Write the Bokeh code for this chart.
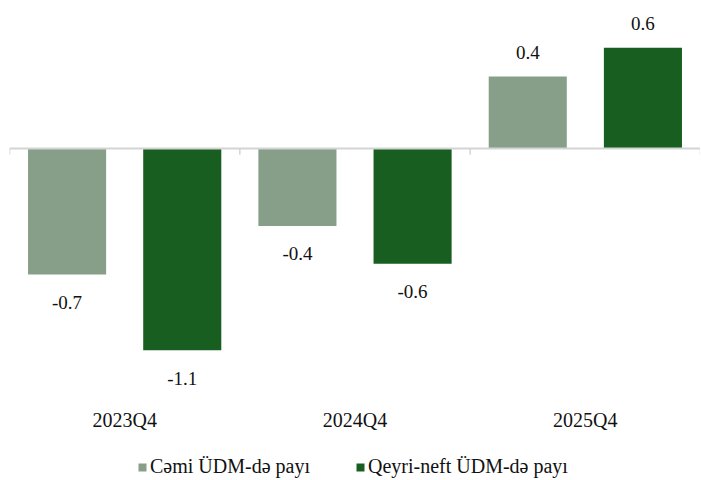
from bokeh.plotting import figure
from bokeh.models import ColumnDataSource, FactorRange, Range1d, Span, Legend, LegendItem
from bokeh.transform import dodge
from bokeh.core.properties import value
from bokeh.embed import file_html
from bokeh.resources import INLINE

categories = ["2023Q4", "2024Q4", "2025Q4"]
total_share = [-0.70, -0.43, 0.40]
nonoil_share = [-1.12, -0.64, 0.56]
series_names = ["Cəmi ÜDM-də payı", "Qeyri-neft ÜDM-də payı"]
colors = ["#879f88", "#185e20"]

FONT = "Liberation Serif"
CAT_LABEL_Y = -1.51

p = figure(width=700, height=478, x_range=FactorRange(*categories, range_padding=0),
           y_range=Range1d(-1.833, 0.822), output_backend="svg", toolbar_location=None,
           min_border_left=9, min_border_right=0,
           min_border_top=0, min_border_bottom=0)
p.xaxis.visible = False
p.yaxis.visible = False
p.outline_line_color = None
p.xgrid.visible = False
p.ygrid.visible = False
p.background_fill_color = "white"
p.border_fill_color = "white"

def src(vals):
    labels = [f"{v:.1f}" for v in vals]
    offs = [-24 if v >= 0 else 28 for v in vals]
    return ColumnDataSource(dict(cat=categories, val=vals, lab=labels, off=offs))

s1 = src(total_share)
s2 = src(nonoil_share)

r1 = p.vbar(x=dodge("cat", -0.25, range=p.x_range), top="val", bottom=0, width=0.339,
            source=s1, fill_color=colors[0], line_color=None)
r2 = p.vbar(x=dodge("cat", 0.25, range=p.x_range), top="val", bottom=0, width=0.339,
            source=s2, fill_color=colors[1], line_color=None)

for s, d in ((s1, -0.25), (s2, 0.25)):
    p.text(x=dodge("cat", d, range=p.x_range), y="val", text="lab", source=s,
           y_offset="off", text_align="center", text_baseline="middle",
           text_font=value(FONT), text_font_size="19px", text_color="#111111")

# zero line and boundary ticks
p.add_layout(Span(location=0, dimension="width", line_color="#d4d4d4", line_width=2))
bsrc = ColumnDataSource(dict(cat=categories))
p.segment(x0=dodge("cat", -0.5, range=p.x_range), x1=dodge("cat", -0.5, range=p.x_range),
          y0=0, y1=-0.035, source=bsrc, line_color="#d4d4d4", line_width=1.5)
lsrc = ColumnDataSource(dict(cat=categories[-1:]))
p.segment(x0=dodge("cat", 0.5, range=p.x_range), x1=dodge("cat", 0.5, range=p.x_range),
          y0=0, y1=-0.035, source=lsrc, line_color="#d4d4d4", line_width=1.5)

# category labels
p.text(x="cat", y=CAT_LABEL_Y, text="cat", source=bsrc,
       text_align="center", text_baseline="middle",
       text_font=value(FONT), text_font_size="20px", text_color="#111111")

legend = Legend(items=[LegendItem(label=series_names[0], renderers=[r1]),
                       LegendItem(label=series_names[1], renderers=[r2])],
                orientation="horizontal", location=(128, 0),
                glyph_width=10, glyph_height=10, label_standoff=3, spacing=45,
                padding=0, margin=0, border_line_color=None,
                background_fill_alpha=0,
                label_text_font=FONT, label_text_font_size="20px",
                label_text_color="#111111")
p.add_layout(legend)

open("out.html", "w").write(file_html(p, INLINE))
